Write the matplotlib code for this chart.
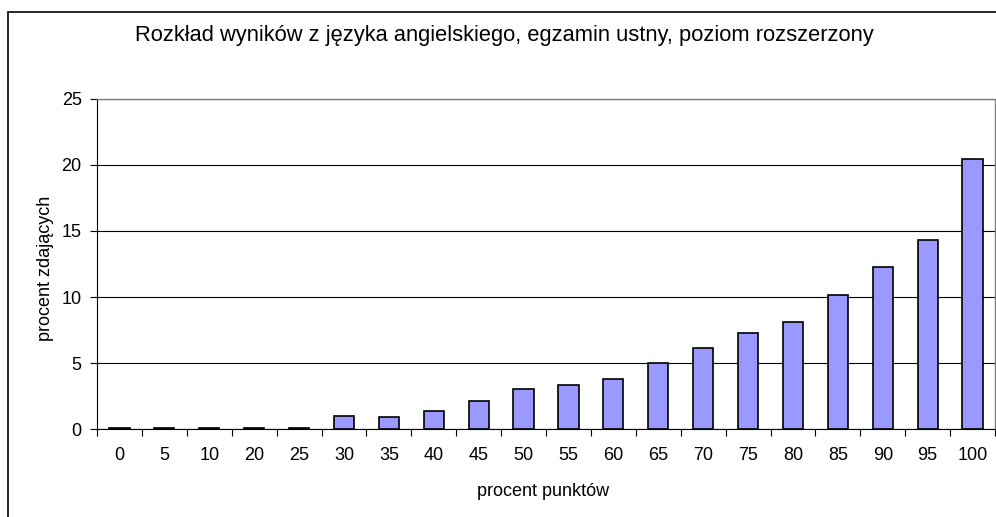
import matplotlib
matplotlib.use("Agg")
import matplotlib.pyplot as plt
from matplotlib.patches import Rectangle

categories = ["0", "5", "10", "20", "25", "30", "35", "40", "45", "50",
              "55", "60", "65", "70", "75", "80", "85", "90", "95", "100"]
values = [0.1, 0.1, 0.1, 0.1, 0.1, 1.0, 0.88, 1.36, 2.15, 3.0,
          3.36, 3.76, 5.03, 6.14, 7.27, 8.13, 10.15, 12.3, 14.3, 20.45]
yticks = [0, 5, 10, 15, 20, 25]

plt.rcParams['font.family'] = ['Liberation Sans', 'DejaVu Sans']

W, H = 996, 517
fig = plt.figure(figsize=(W / 100, H / 100), dpi=100)

# outer chart frame
fig.patches.append(Rectangle((8 / W, -0.05), 1.2, 1 - 12 / H + 0.05,
                             transform=fig.transFigure, fill=False,
                             edgecolor='black', linewidth=1.2))

ax = fig.add_axes([97 / W, (H - 429) / H, (995 - 97) / W, (429 - 99) / H])
x = list(range(len(categories)))
ax.bar(x, values, width=0.45, color='#9999FF', edgecolor='black',
       linewidth=1.2, zorder=3)
ax.set_xlim(-0.5, len(categories) - 0.5)
ax.set_ylim(0, 25)
ax.set_yticks(yticks)
ax.set_yticklabels([str(t) for t in yticks], fontsize=13)
ax.set_xticks(x)
ax.set_xticklabels(categories, fontsize=13)
ax.tick_params(axis='x', length=0, pad=13)
ax.tick_params(axis='y', length=5, width=0.8, direction='out', pad=6)
# x ticks at category boundaries
ax.set_xticks([i - 0.5 for i in range(len(categories) + 1)], minor=True)
ax.tick_params(axis='x', which='minor', length=5, width=0.8, direction='out')
ax.grid(axis='y', color='black', linewidth=0.8, zorder=0)
for s in ['top', 'right']:
    ax.spines[s].set_color('#808080')
    ax.spines[s].set_linewidth(1.0)
for s in ['left', 'bottom']:
    ax.spines[s].set_color('black')
    ax.spines[s].set_linewidth(0.8)

fig.text(543 / W, 1 - 492 / H, "procent punktów", ha='center', va='center', fontsize=13)
fig.text(45 / W, 1 - 268 / H, "procent zdających", ha='center', va='center',
         rotation=90, fontsize=13)

fig.text(504 / W, 1 - 35 / H, "Rozkład wyników z języka angielskiego, egzamin ustny, poziom rozszerzony",
         ha='center', va='center', fontsize=15.75)

fig.savefig("out.png", dpi=100)
